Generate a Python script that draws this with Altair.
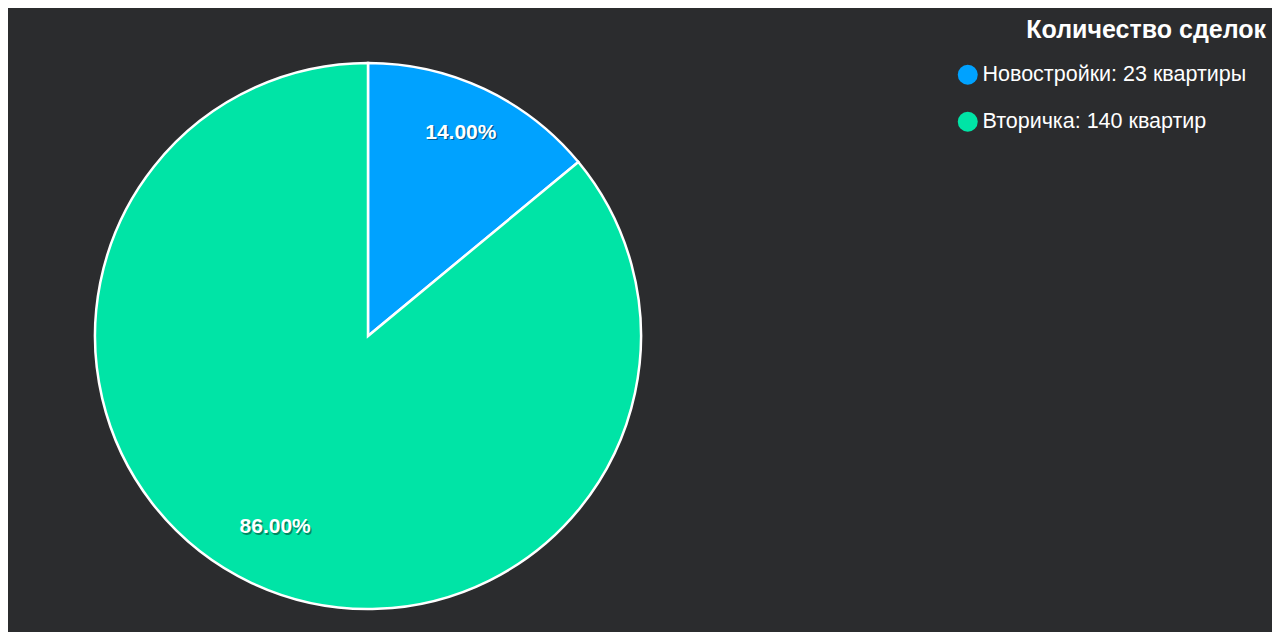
import altair as alt
import pandas as pd

categories = ["Новостройки: 23 квартиры", "Вторичка: 140 квартир"]
shares = [14, 86]
pct_labels = ["14.00%", "86.00%"]
colors = ["#00a2ff", "#00e4a6"]
order = [0, 1]
chart_title = "Количество сделок"

df = pd.DataFrame({"cat": categories, "share": shares, "label": pct_labels, "ord": order})

BG = "#2b2c2e"
cx, cy = 360, 328
R = 273

color = alt.Color(
    "cat:N",
    scale=alt.Scale(domain=categories, range=colors),
    legend=alt.Legend(
        title=None,
        orient="none",
        legendX=949,
        legendY=56,
        symbolType="circle",
        symbolSize=400,
        symbolStrokeWidth=0,
        labelFontSize=21.5,
        labelFont="Liberation Sans",
        labelColor="#ffffff",
        labelOffset=4,
        rowPadding=24,
        padding=0,
        labelLimit=400,
    ),
)

base = alt.Chart(df)

pie = base.mark_arc(outerRadius=R, stroke="#ffffff", strokeWidth=2.5).encode(
    theta=alt.Theta("share:Q", stack=True),
    color=color,
    order=alt.Order("ord:Q"),
    x=alt.value(cx),
    y=alt.value(cy),
)

shadow = base.mark_text(
    radius=218, fontSize=21, fontWeight="bold", font="Liberation Sans",
    color="#000000", opacity=0.4, dx=1.5, dy=-4.5,
).encode(
    theta=alt.Theta("share:Q", stack=True),
    order=alt.Order("ord:Q"),
    text="label:N",
    x=alt.value(cx),
    y=alt.value(cy),
)

labels = base.mark_text(
    radius=218, fontSize=21, fontWeight="bold", font="Liberation Sans",
    color="#ffffff", dy=-6,
).encode(
    theta=alt.Theta("share:Q", stack=True),
    order=alt.Order("ord:Q"),
    text="label:N",
    x=alt.value(cx),
    y=alt.value(cy),
)

title = alt.Chart(pd.DataFrame({"t": [chart_title]})).mark_text(
    fontSize=25, fontWeight="bold", font="Liberation Sans", color="#ffffff",
    align="right", baseline="alphabetic",
).encode(text="t:N", x=alt.value(1258), y=alt.value(30))

chart = alt.layer(pie, shadow, labels, title).properties(
    width=1264, height=624, padding=0, background=BG,
    autosize=alt.AutoSizeParams(type="none"),
).configure_view(stroke=None)

chart.save("out.html", embed_options={"renderer": "svg", "actions": False})
